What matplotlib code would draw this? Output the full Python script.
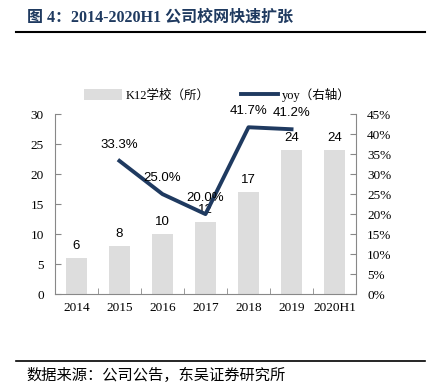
import matplotlib
matplotlib.use("Agg")
import matplotlib.pyplot as plt
import numpy as np

# data
years = ["2014", "2015", "2016", "2017", "2018", "2019", "2020H1"]
schools = [6, 8, 10, 12, 17, 24, 24]
yoy_years = ["2015", "2016", "2017", "2018", "2019"]
yoy = [33.3, 25.0, 20.0, 41.7, 41.2]

SERIF = ["Liberation Serif", "Noto Sans CJK SC"]
SANS = ["Liberation Sans", "Noto Sans CJK SC"]
NAVY = "#1f3a60"
BAR = "#dddddd"

fig = plt.figure(figsize=(4.29, 3.84), dpi=100)

# title and rules
fig.text(0.063, 0.955, "图 4：2014-2020H1 公司校网快速扩张", family=SERIF,
         fontsize=11.5, fontweight="bold", color=NAVY, va="center")
fig.add_artist(plt.Line2D([0.037, 0.99], [0.917, 0.917], color="black", lw=1.5))
fig.add_artist(plt.Line2D([0.037, 0.99], [0.060, 0.060], color="black", lw=1.2))
fig.text(0.061, 0.023, "数据来源：公司公告，东吴证券研究所", family=["Noto Sans CJK SC"],
         fontsize=11, va="center")

ax = fig.add_axes([0.128, 0.234, 0.702, 0.469])
x = np.arange(len(years))
bars = ax.bar(x, schools, width=0.47, color=BAR, label="K12学校（所）")
for xi, v in zip(x, schools):
    ax.text(xi, v + 1.0, str(v), ha="center", va="bottom", family=SANS, fontsize=9.5)

ax.set_ylim(0, 30)
ax.set_yticks(range(0, 31, 5))
ax.set_xlim(-0.5, len(years) - 0.5)
ax.set_xticks(x)
ax.set_xticklabels(years)
ax.set_xticks(np.arange(-0.5, len(years)), minor=True)
ax.tick_params(axis="x", which="major", length=0, pad=6)
ax.tick_params(axis="x", which="minor", length=4, direction="in", color="#888888")
ax.tick_params(axis="y", length=4, direction="in", color="#888888", pad=8)
for s in ["top", "right"]:
    ax.spines[s].set_visible(False)
ax.spines["left"].set_color("#888888")
ax.spines["bottom"].set_color("#888888")

ax2 = ax.twinx()
xl = [years.index(y) for y in yoy_years]
line, = ax2.plot(xl, yoy, color=NAVY, lw=2.8, label="yoy（右轴）")
for xi, v in zip(xl, yoy):
    ax2.text(xi, v + 2.5, f"{v:.1f}%", ha="center", va="bottom", family=SANS, fontsize=9.5)
ax2.set_ylim(0, 45)
ax2.set_yticks(range(0, 46, 5))
ax2.set_yticklabels([f"{t}%" for t in range(0, 46, 5)])
ax2.tick_params(axis="y", length=4, direction="in", color="#888888", pad=8)
for s in ["top", "left", "bottom"]:
    ax2.spines[s].set_visible(False)
ax2.spines["right"].set_color("#888888")

for a in (ax, ax2):
    for lab in a.get_xticklabels() + a.get_yticklabels():
        lab.set_family(SERIF)
        lab.set_fontsize(9.5)

fig.legend([bars, line], ["K12学校（所）", "yoy（右轴）"], loc="center",
           bbox_to_anchor=(0.507, 0.753), ncol=2, frameon=False,
           prop={"family": SERIF, "size": 9}, handlelength=3.0, handleheight=0.9,
           columnspacing=2.5, handletextpad=0.3)

fig.savefig("out.png", dpi=100, facecolor="white")
